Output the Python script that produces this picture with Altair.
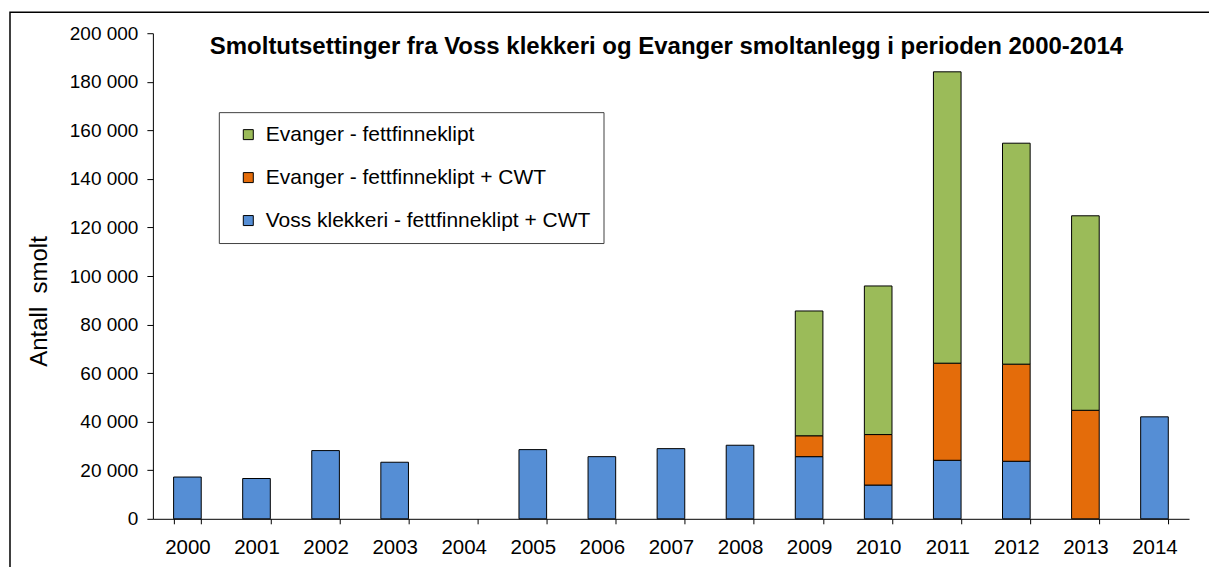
import altair as alt
import pandas as pd

years = [str(y) for y in range(2000, 2015)]
voss = [17200, 16600, 28100, 23300, 0, 28500, 25600, 28900, 30300, 25600, 13900, 24100, 23700, 0, 42000]
evanger_cwt = [0, 0, 0, 0, 0, 0, 0, 0, 0, 8600, 20800, 40000, 40000, 44700, 0]
evanger_fett = [0, 0, 0, 0, 0, 0, 0, 0, 0, 51400, 61200, 120000, 91000, 80100, 0]

series_names = [
    "Evanger - fettfinneklipt",
    "Evanger - fettfinneklipt + CWT",
    "Voss klekkeri - fettfinneklipt + CWT",
]
series_colors = ["#9BBB59", "#E46C0A", "#558ED5"]
stack_rank = {series_names[2]: 0, series_names[1]: 1, series_names[0]: 2}
title_text = "Smoltutsettinger fra Voss klekkeri og Evanger smoltanlegg i perioden 2000-2014"

rows = []
for i, y in enumerate(years):
    for name, vals in [(series_names[2], voss), (series_names[1], evanger_cwt), (series_names[0], evanger_fett)]:
        rows.append({"year": y, "series": name, "value": vals[i], "rank": stack_rank[name]})
df = pd.DataFrame(rows)

FONT = "Liberation Sans"

bars = alt.Chart(df).transform_filter("datum.value > 0").mark_bar(stroke="black", strokeWidth=1).encode(
    x=alt.X("year:N", sort=years,
            scale=alt.Scale(domain=years, paddingInner=0.6, paddingOuter=0.3),
            axis=alt.Axis(title=None, labelAngle=0, tickBand="extent", tickSize=5,
                          labelPadding=14, labelFontSize=20.5, labelColor="#000000",
                          domainColor="#000000", tickColor="#000000", labelFont=FONT)),
    y=alt.Y("value:Q", stack="zero",
            scale=alt.Scale(domain=[0, 200000], nice=False),
            axis=alt.Axis(title="Antall\u00a0 smolt", values=list(range(0, 200001, 20000)),
                          labelExpr="replace(format(datum.value, ','), ',', ' ')",
                          grid=False, tickSize=6, labelPadding=9, labelFontSize=19,
                          labelColor="#000000", domainColor="#000000", tickColor="#000000",
                          labelFont=FONT, titleFont=FONT, titleFontSize=24,
                          titleFontWeight="normal", titleColor="#000000",
                          titleX=-113, titleY=268, titleAngle=-90,
                          titleAlign="center", titleBaseline="middle")),
    color=alt.Color("series:N",
                    scale=alt.Scale(domain=series_names, range=series_colors),
                    legend=alt.Legend(title=None, orient="none", legendX=66, legendY=79,
                                      padding=12, symbolOffset=7, strokeColor="#404040",
                                      fillColor="white", symbolType="square", symbolSize=100,
                                      symbolStrokeColor="black", symbolStrokeWidth=1,
                                      labelFontSize=21, labelFont=FONT, labelColor="#000000",
                                      labelLimit=600, rowPadding=21, labelOffset=7)),
    order=alt.Order("rank:Q", sort="ascending"),
)

frame_df = pd.DataFrame({"k": [0]})
frame = alt.Chart(frame_df).mark_rect(filled=False, stroke="black", strokeWidth=1.5).encode(
    x=alt.value(-143), x2=alt.value(1300), y=alt.value(-21), y2=alt.value(700)
)

title_df = pd.DataFrame({"t": [title_text]})
title = alt.Chart(title_df).mark_text(
    font=FONT, fontSize=24, fontWeight="bold", color="#000000",
    align="center", baseline="middle"
).encode(text="t:N", x=alt.value(514), y=alt.value(14))

chart = alt.layer(frame, bars, title).properties(
    width=1037, height=486,
    padding={"left": 145, "top": 25, "right": 20, "bottom": 48},
    autosize=alt.AutoSizeParams(type="none"),
).configure_view(stroke=None)

chart.save("out.html", embed_options={"renderer": "svg", "actions": False})
